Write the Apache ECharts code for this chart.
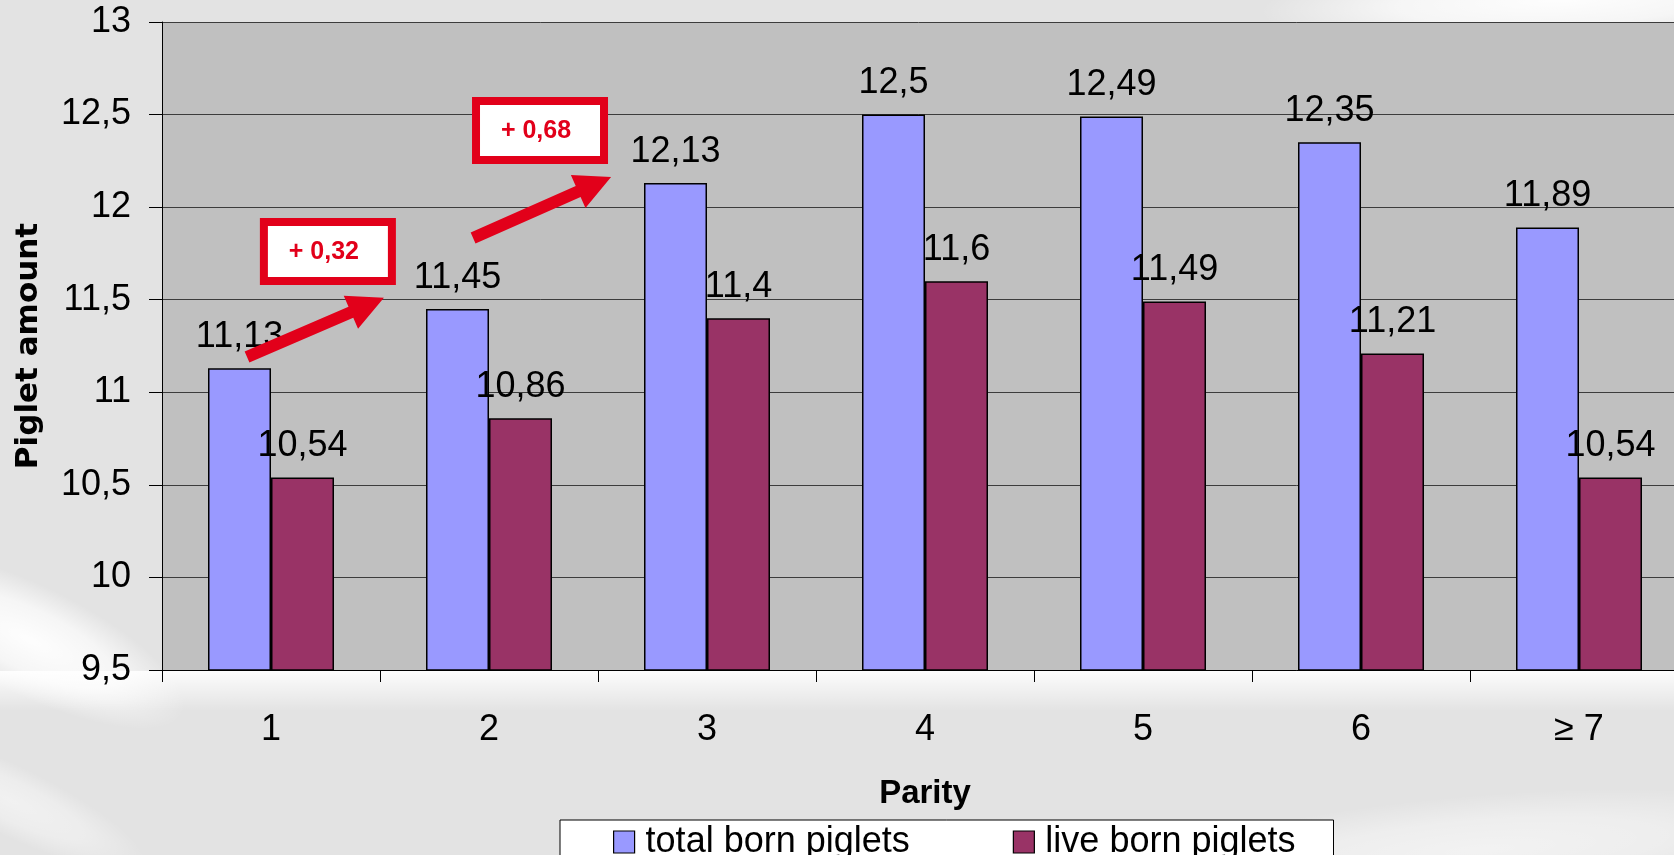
<!DOCTYPE html>
<html>
<head>
<meta charset="utf-8">
<script src="https://cdn.jsdelivr.net/npm/echarts@6/dist/echarts.min.js"></script>
<style>
  html, body { margin: 0; padding: 0; background: #e3e3e3; }
  #chart { width: 1674px; height: 855px; }
</style>
</head>
<body>
<div id="chart"></div>
<script>
// Piglets per litter by sow parity
const parity = ['1', '2', '3', '4', '5', '6', '≥ 7'];
const totalBorn = [11.13, 11.45, 12.13, 12.5, 12.49, 12.35, 11.89];
const liveBorn = [10.54, 10.86, 11.4, 11.6, 11.49, 11.21, 10.54];
const yMin = 9.5;
const yMax = 13;
const yStep = 0.5;

const comma = v => String(v).replace('.', ',');
const RED = '#e2001a';
const FONT = '"Liberation Sans", Arial, sans-serif';

const chart = echarts.init(document.getElementById('chart'), null, { renderer: 'canvas' });

// soft white swooshes in the slide background (circles stretched into ellipses)
function glow(cx, cy, rx, ry, rot, alpha) {
  return {
    type: 'circle', z: -10, silent: true,
    x: cx, y: cy, rotation: rot, scaleX: rx / ry, scaleY: 1,
    shape: { cx: 0, cy: 0, r: ry },
    style: {
      fill: {
        type: 'radial', x: 0.5, y: 0.5, r: 0.5,
        colorStops: [
          { offset: 0, color: 'rgba(255,255,255,' + alpha + ')' },
          { offset: 0.55, color: 'rgba(255,255,255,' + (alpha * 0.7) + ')' },
          { offset: 1, color: 'rgba(255,255,255,0)' }
        ]
      }
    }
  };
}

const backdrop = [
  glow(30, 640, 170, 55, -0.45, 0.95),
  glow(10, 800, 150, 35, -0.45, 0.5),
  glow(1560, 0, 300, 45, 0.04, 0.95),
  glow(1480, 850, 340, 55, 0.08, 0.55),
  {
    type: 'rect', z: -9, silent: true,
    shape: { x: 0, y: 671, width: 1674, height: 40 },
    style: {
      fill: {
        type: 'linear', x: 0, y: 0, x2: 0, y2: 1,
        colorStops: [
          { offset: 0, color: 'rgba(255,255,255,0.9)' },
          { offset: 1, color: 'rgba(255,255,255,0)' }
        ]
      }
    }
  }
];

const option = {
  backgroundColor: '#e3e3e3',
  animation: false,
  textStyle: { fontFamily: FONT, color: '#000' },
  grid: {
    left: 162, top: 22, width: 1526, height: 648,
    outerBoundsMode: 'none', containLabel: false,
    show: true, backgroundColor: '#c0c0c0', borderWidth: 0
  },
  legend: {
    left: 560, top: 820,
    padding: [4, 38, 30, 53],
    backgroundColor: '#ffffff',
    borderColor: '#000000', borderWidth: 1,
    itemWidth: 21, itemHeight: 22, itemGap: 103,
    icon: 'rect',
    itemStyle: { borderColor: '#000', borderWidth: 1.2 },
    textStyle: { fontFamily: FONT, fontSize: 36, color: '#000', padding: [0, 0, 0, 6] },
    data: ['total born piglets', 'live born piglets']
  },
  xAxis: {
    type: 'category',
    data: parity,
    name: 'Parity',
    nameLocation: 'middle',
    nameGap: 107,
    nameTextStyle: { fontFamily: FONT, fontWeight: 'bold', fontSize: 33, color: '#000' },
    axisLine: { lineStyle: { color: '#000', width: 1 } },
    axisTick: { show: true, length: 12, lineStyle: { color: '#000' } },
    axisLabel: { fontSize: 36, color: '#000', margin: 42, fontFamily: FONT },
    splitLine: { show: false }
  },
  yAxis: {
    type: 'value',
    min: yMin, max: yMax, interval: yStep,
    name: 'Piglet amount',
    nameLocation: 'middle',
    nameGap: 118,
    nameTextStyle: { fontFamily: '"DejaVu Sans", Verdana, sans-serif', fontWeight: 'bold', fontSize: 31, color: '#000' },
    axisLine: { show: true, lineStyle: { color: '#000', width: 1 } },
    axisTick: { show: true, length: 13, lineStyle: { color: '#000' } },
    axisLabel: { fontSize: 36, color: '#000', margin: 31, fontFamily: FONT, formatter: v => comma(v) },
    splitLine: { show: true, lineStyle: { color: '#3c3c3c', width: 1 } }
  },
  series: [
    {
      name: 'total born piglets',
      type: 'bar',
      data: totalBorn,
      barWidth: 63,
      barGap: '0%',
      itemStyle: { color: '#9999ff', borderColor: '#000', borderWidth: 1.5 },
      label: {
        show: true, position: 'top', distance: 13,
        fontSize: 36, color: '#000', fontFamily: FONT,
        formatter: p => comma(p.value)
      }
    },
    {
      name: 'live born piglets',
      type: 'bar',
      data: liveBorn,
      barWidth: 63,
      barGap: '0%',
      itemStyle: { color: '#993366', borderColor: '#000', borderWidth: 1.5 },
      label: {
        show: true, position: 'top', distance: 13,
        fontSize: 36, color: '#000', fontFamily: FONT,
        formatter: p => comma(p.value)
      }
    }
  ],
  graphic: backdrop
};

chart.setOption(option);

// Increase callouts between consecutive parities, placed in axis space
const callouts = [
  { from: 0, to: 1, arrow: [[-0.11, 11.19], [0.518, 11.51]], box: [0.261, 11.76] },
  { from: 1, to: 2, arrow: [[0.927, 11.833], [1.56, 12.163]], box: [1.234, 12.414] }
];

function toPx(c, v) {
  const a = chart.convertToPixel({ gridIndex: 0 }, [0, v]);
  const b = chart.convertToPixel({ gridIndex: 0 }, [1, v]);
  return [a[0] + c * (b[0] - a[0]), a[1]];
}

function arrowPolygon(p1, p2, shaftW, headW, headL) {
  const dx = p2[0] - p1[0], dy = p2[1] - p1[1];
  const len = Math.hypot(dx, dy);
  const ux = dx / len, uy = dy / len;
  const nx = -uy, ny = ux;
  const bx = p2[0] - ux * headL, by = p2[1] - uy * headL;
  const s = shaftW / 2, h = headW / 2;
  return [
    [p1[0] + nx * s, p1[1] + ny * s],
    [bx + nx * s, by + ny * s],
    [bx + nx * h, by + ny * h],
    [p2[0], p2[1]],
    [bx - nx * h, by - ny * h],
    [bx - nx * s, by - ny * s],
    [p1[0] - nx * s, p1[1] - ny * s]
  ];
}

const marks = [];
callouts.forEach(c => {
  const diff = Math.round((totalBorn[c.to] - totalBorn[c.from]) * 100) / 100;
  const p1 = toPx(c.arrow[0][0], c.arrow[0][1]);
  const p2 = toPx(c.arrow[1][0], c.arrow[1][1]);
  marks.push({
    type: 'polygon', z: 100, silent: true,
    shape: { points: arrowPolygon(p1, p2, 12, 36, 36) },
    style: { fill: RED }
  });
  const ctr = toPx(c.box[0], c.box[1]);
  marks.push({
    type: 'rect', z: 100, silent: true,
    shape: { x: ctr[0] - 64, y: ctr[1] - 29.5, width: 128, height: 59 },
    style: { fill: '#ffffff', stroke: RED, lineWidth: 8 }
  });
  marks.push({
    type: 'text', z: 101, silent: true,
    x: ctr[0] - 4, y: ctr[1] + 1,
    style: {
      text: '+ ' + comma(diff.toFixed(2)),
      align: 'center', verticalAlign: 'middle',
      fontFamily: FONT, fontWeight: 'bold', fontSize: 25, fill: RED
    }
  });
});

chart.setOption({ graphic: backdrop.concat(marks) });
</script>
</body>
</html>
